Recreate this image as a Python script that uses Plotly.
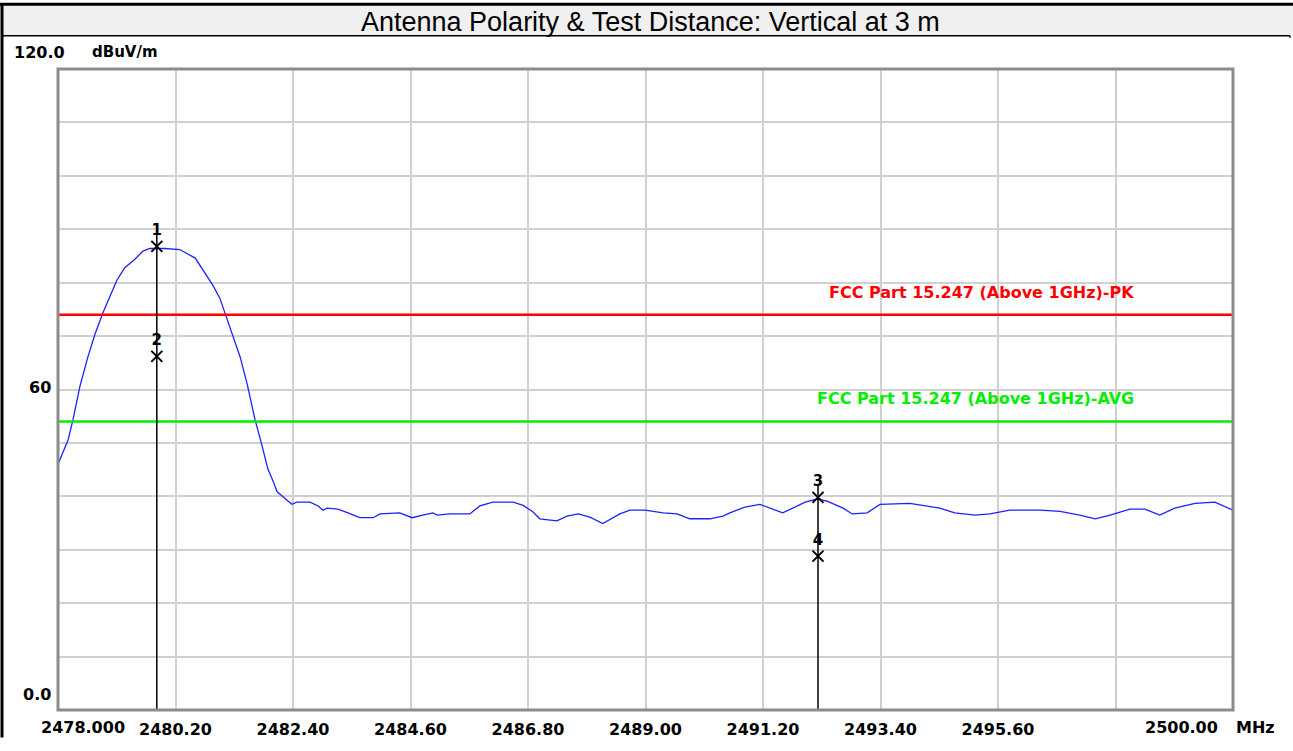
import plotly.graph_objects as go

# ---------------- data ----------------
freq_mhz = [2478.00, 2478.19, 2478.28, 2478.41, 2478.56, 2478.69, 2478.84, 2478.94, 2479.10, 2479.25,
            2479.44, 2479.59, 2479.72, 2480.00, 2480.28, 2480.57, 2480.75, 2480.90, 2481.03, 2481.13,
            2481.28, 2481.41, 2481.54, 2481.69, 2481.82, 2481.93, 2482.03, 2482.10, 2482.25, 2482.38,
            2482.47, 2482.72, 2482.87, 2482.96, 2483.04, 2483.24, 2483.43, 2483.65, 2483.90, 2484.03,
            2484.40, 2484.63, 2484.83, 2485.02, 2485.10, 2485.34, 2485.71, 2485.90, 2486.14, 2486.22,
            2486.52, 2486.71, 2486.89, 2487.02, 2487.34, 2487.53, 2487.74, 2487.96, 2488.20, 2488.52,
            2488.71, 2488.99, 2489.33, 2489.59, 2489.83, 2490.21, 2490.45, 2490.58, 2490.86, 2491.14,
            2491.57, 2491.99, 2492.21, 2492.40, 2492.70, 2492.87, 2493.15, 2493.39, 2493.95, 2494.51,
            2494.79, 2495.17, 2495.45, 2495.82, 2496.39, 2496.76, 2497.13, 2497.42, 2497.70, 2498.07,
            2498.35, 2498.63, 2498.91, 2499.29, 2499.66, 2500.00]
level_dbuv = [46.0, 50.6, 54.3, 60.6, 66.1, 70.3, 74.3, 76.7, 80.4, 82.8,
              84.4, 85.9, 86.4, 86.4, 86.2, 84.6, 81.8, 79.5, 77.1, 74.3,
              69.7, 66.1, 61.1, 54.3, 49.5, 45.1, 42.8, 40.9, 39.6, 38.5,
              38.9, 38.9, 38.2, 37.4, 37.8, 37.6, 36.9, 36.0, 36.0, 36.7,
              36.9, 36.0, 36.5, 36.9, 36.5, 36.7, 36.7, 38.2, 38.9, 38.9,
              38.9, 38.3, 37.1, 35.8, 35.4, 36.3, 36.7, 36.1, 34.9, 36.7,
              37.4, 37.4, 36.9, 36.7, 35.8, 35.8, 36.3, 36.9, 38.0, 38.5,
              36.9, 38.9, 39.5, 39.1, 37.8, 36.7, 36.9, 38.5, 38.7, 37.8,
              36.9, 36.5, 36.7, 37.4, 37.4, 37.2, 36.5, 35.8, 36.5, 37.6,
              37.6, 36.5, 37.8, 38.7, 38.9, 37.4]

marker_ids = ["1", "2", "3", "4"]
marker_freq = [2479.85, 2479.85, 2492.23, 2492.23]
marker_level = [86.8, 66.2, 39.8, 28.8]

limit_names = ["FCC Part 15.247 (Above 1GHz)-PK", "FCC Part 15.247 (Above 1GHz)-AVG"]
limit_levels = [74.0, 54.0]
limit_colors = ["#ff0000", "#00ee00"]

x_grid = [2478.0, 2480.2, 2482.4, 2484.6, 2486.8, 2489.0, 2491.2, 2493.4, 2495.6, 2497.8, 2500.0]
x_ticktext = ["", "2480.20", "2482.40", "2484.60", "2486.80", "2489.00", "2491.20", "2493.40", "2495.60", "", ""]
x_first_label = "2478.000"
x_last_label = "2500.00"
x_unit = "MHz"
y_labels = ["120.0", "60", "0.0"]
y_unit = "dBuV/m"
title_text = "Antenna Polarity & Test Distance: Vertical at 3 m"

# ---------------- geometry helpers ----------------
W, H = 1293, 751
L, R, T, B = 58, 1233, 69, 723


def px(x):
    return (x - L) / (R - L)


def py(y):
    return (B - y) / (B - T)


fig = go.Figure()

# spectrum trace
fig.add_trace(go.Scatter(x=freq_mhz, y=level_dbuv, mode="lines",
                         line=dict(color="#2020ff", width=1.3), showlegend=False, hoverinfo="skip"))

# limit lines
for name, lv, col in zip(limit_names, limit_levels, limit_colors):
    fig.add_trace(go.Scatter(x=[x_grid[0], x_grid[-1]], y=[lv, lv], mode="lines",
                             line=dict(color=col, width=2.6), showlegend=False, hoverinfo="skip"))

# marker stems
for f in sorted(set(marker_freq)):
    top = max(l for ff, l in zip(marker_freq, marker_level) if ff == f)
    fig.add_trace(go.Scatter(x=[f, f], y=[0, top + 2.2], mode="lines",
                             line=dict(color="black", width=1.5), showlegend=False, hoverinfo="skip"))

# markers
fig.add_trace(go.Scatter(x=marker_freq, y=marker_level, mode="markers+text",
                         marker=dict(symbol="x-thin-open", size=11, color="black",
                                     line=dict(color="black", width=2)),
                         text=marker_ids, textposition="top center",
                         textfont=dict(family="DejaVu Sans", size=15, color="black", weight="bold"),
                         showlegend=False, hoverinfo="skip", cliponaxis=False))

annotations = []
# limit labels
lim_label_y = [78.2, 58.3]
for name, yy, col in zip(limit_names, lim_label_y, limit_colors):
    annotations.append(dict(x=2498.18, y=yy, xref="x", yref="y", text=name, showarrow=False,
                            xanchor="right", yanchor="middle",
                            font=dict(family="DejaVu Sans", size=16, color=col, weight="bold")))

# title
annotations.append(dict(x=px(650), y=py(21), xref="paper", yref="paper", text=title_text,
                        showarrow=False, xanchor="center", yanchor="middle",
                        font=dict(family="Liberation Sans", size=27, color="black")))

# y-axis labels
bold = dict(family="DejaVu Sans", size=16, color="black", weight="bold")
annotations.append(dict(x=px(12), y=py(52), xref="paper", yref="paper", text=y_labels[0],
                        showarrow=False, xanchor="left", yanchor="middle", font=bold))
annotations.append(dict(x=px(90), y=py(52), xref="paper", yref="paper", text=y_unit,
                        showarrow=False, xanchor="left", yanchor="middle",
                        font=dict(family="DejaVu Sans", size=15, color="black", weight="bold")))
annotations.append(dict(x=px(53), y=py(394), xref="paper", yref="paper", text=y_labels[1],
                        showarrow=False, xanchor="right", yanchor="middle", font=bold))
annotations.append(dict(x=px(53), y=py(707), xref="paper", yref="paper", text=y_labels[2],
                        showarrow=False, xanchor="right", yanchor="middle", font=bold))

# x-axis end labels
annotations.append(dict(x=px(83), y=py(741), xref="paper", yref="paper", text=x_first_label,
                        showarrow=False, xanchor="center", yanchor="middle", font=bold))
annotations.append(dict(x=px(1181), y=py(741), xref="paper", yref="paper", text=x_last_label,
                        showarrow=False, xanchor="center", yanchor="middle", font=bold))
annotations.append(dict(x=px(1234), y=py(741), xref="paper", yref="paper", text=x_unit,
                        showarrow=False, xanchor="left", yanchor="middle", font=bold))

shapes = [
    # title bar
    dict(type="rect", xref="paper", yref="paper", x0=px(3), x1=px(1293), y0=py(35), y1=py(4),
         fillcolor="#f0f0f0", line=dict(width=0), layer="below"),
    dict(type="line", xref="paper", yref="paper", x0=px(0), x1=px(1293), y0=py(3), y1=py(3),
         line=dict(color="black", width=3)),
    dict(type="line", xref="paper", yref="paper", x0=px(3), x1=px(1290), y0=py(35), y1=py(35),
         line=dict(color="black", width=1.5)),
    dict(type="line", xref="paper", yref="paper", x0=px(1290), x1=px(1290), y0=py(35), y1=py(37),
         line=dict(color="black", width=1.5)),
    # outer left border
    dict(type="line", xref="paper", yref="paper", x0=px(2), x1=px(2), y0=py(2), y1=py(751),
         line=dict(color="black", width=3)),
    # plot frame
    dict(type="rect", xref="paper", yref="paper", x0=0, x1=1, y0=0, y1=1,
         line=dict(color="#8c8c8c", width=3), layer="above"),
]

fig.update_layout(
    width=W, height=H, autosize=False,
    margin=dict(l=L, r=W - R, t=T, b=H - B, pad=0),
    paper_bgcolor="white", plot_bgcolor="white",
    showlegend=False,
    annotations=annotations, shapes=shapes,
    xaxis=dict(range=[x_grid[0], x_grid[-1]], tickmode="array", tickvals=x_grid, ticktext=x_ticktext,
               showgrid=True, gridcolor="#d0d0d0", gridwidth=2, zeroline=False, showline=False,
               ticks="", ticklabelstandoff=8,
               tickfont=dict(family="DejaVu Sans", size=16, color="black", weight="bold"),
               fixedrange=True),
    yaxis=dict(range=[0, 120], tickmode="linear", tick0=0, dtick=10, showticklabels=False,
               showgrid=True, gridcolor="#d0d0d0", gridwidth=2, zeroline=False, showline=False,
               ticks="", fixedrange=True),
)

fig.write_html("out.html", config={"displayModeBar": False},
               post_script="document.body.style.margin='0px';")
